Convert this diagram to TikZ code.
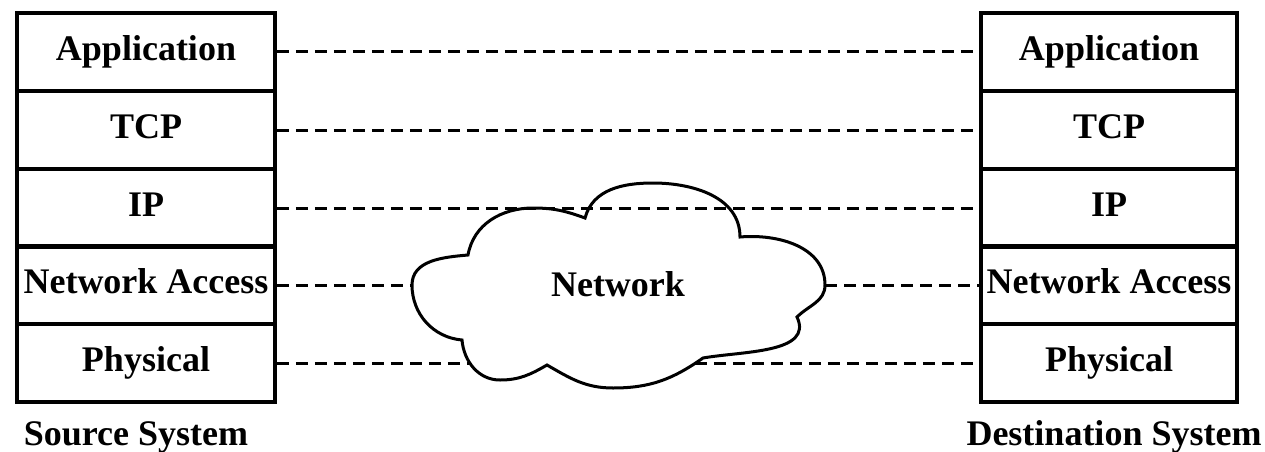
\documentclass[tikz,border=0pt]{standalone}
\usepackage{fontspec}
\setmainfont{Liberation Serif}
\begin{document}
\begin{tikzpicture}[x=1pt,y=1pt,
  layer/.style={draw,line width=3.5pt,rectangle,minimum width=258pt,minimum height=78pt,inner sep=0pt,
    font=\fontsize{36}{40}\selectfont\bfseries,text height=23pt,text depth=6pt},
  rlayer/.style={layer,minimum width=256pt},
  peer/.style={dashed,line width=3pt,dash pattern=on 12pt off 7pt},
  lbl/.style={font=\fontsize{36}{40}\selectfont\bfseries,inner sep=0pt,text height=23pt,text depth=0pt}]
\useasboundingbox (0,0) rectangle (1265,451);
% source stack
\node[layer] (sA) at (146,399) {Application};
\node[layer] (sT) at (146,321) {TCP};
\node[layer] (sI) at (146,243) {IP};
\node[layer] (sN) at (146,166) {Network Access};
\node[layer] (sP) at (146,88) {Physical};
% destination stack
\node[rlayer] (dA) at (1109,399) {Application};
\node[rlayer] (dT) at (1109,321) {TCP};
\node[rlayer] (dI) at (1109,243) {IP};
\node[rlayer] (dN) at (1109,166) {Network Access};
\node[rlayer] (dP) at (1109,88) {Physical};
\node[lbl] (src) at (136,17) {Source System};
\node[lbl] (dst) at (1114,17) {Destination System};
% lines behind the cloud
\draw[peer] (sP.east) -- (dP.west);
% cloud
\coordinate (cl) at (412,166);
\coordinate (cr) at (825,166);
\draw[line width=3pt,fill=white]
  (468,196) to[out=80,in=180] (533,243) to[out=0,in=160] (585,233)
  to[out=75,in=180] (653,268) to[out=0,in=90] (740,214)
  to[out=5,in=90] (cr) to[out=-90,in=45] (797,134)
  to[out=-65,in=10] (703,93)
  to[out=-145,in=0] (613,63) to[out=180,in=-30] (547,86)
  to[out=-150,in=0] (500,71) to[out=180,in=-85] (462,111)
  to[out=175,in=-90] (cl) to[out=90,in=185] cycle;
\node[lbl] (net) at (618,166) {Network};
% peer lines
\draw[peer] (sA.east) -- (dA.west);
\draw[peer] (sT.east) -- (dT.west);
\draw[peer] (sI.east) -- (dI.west);
\draw[peer] (sN.east) -- (cl);
\draw[peer] (cr) -- (dN.west);
\end{tikzpicture}
\end{document}
